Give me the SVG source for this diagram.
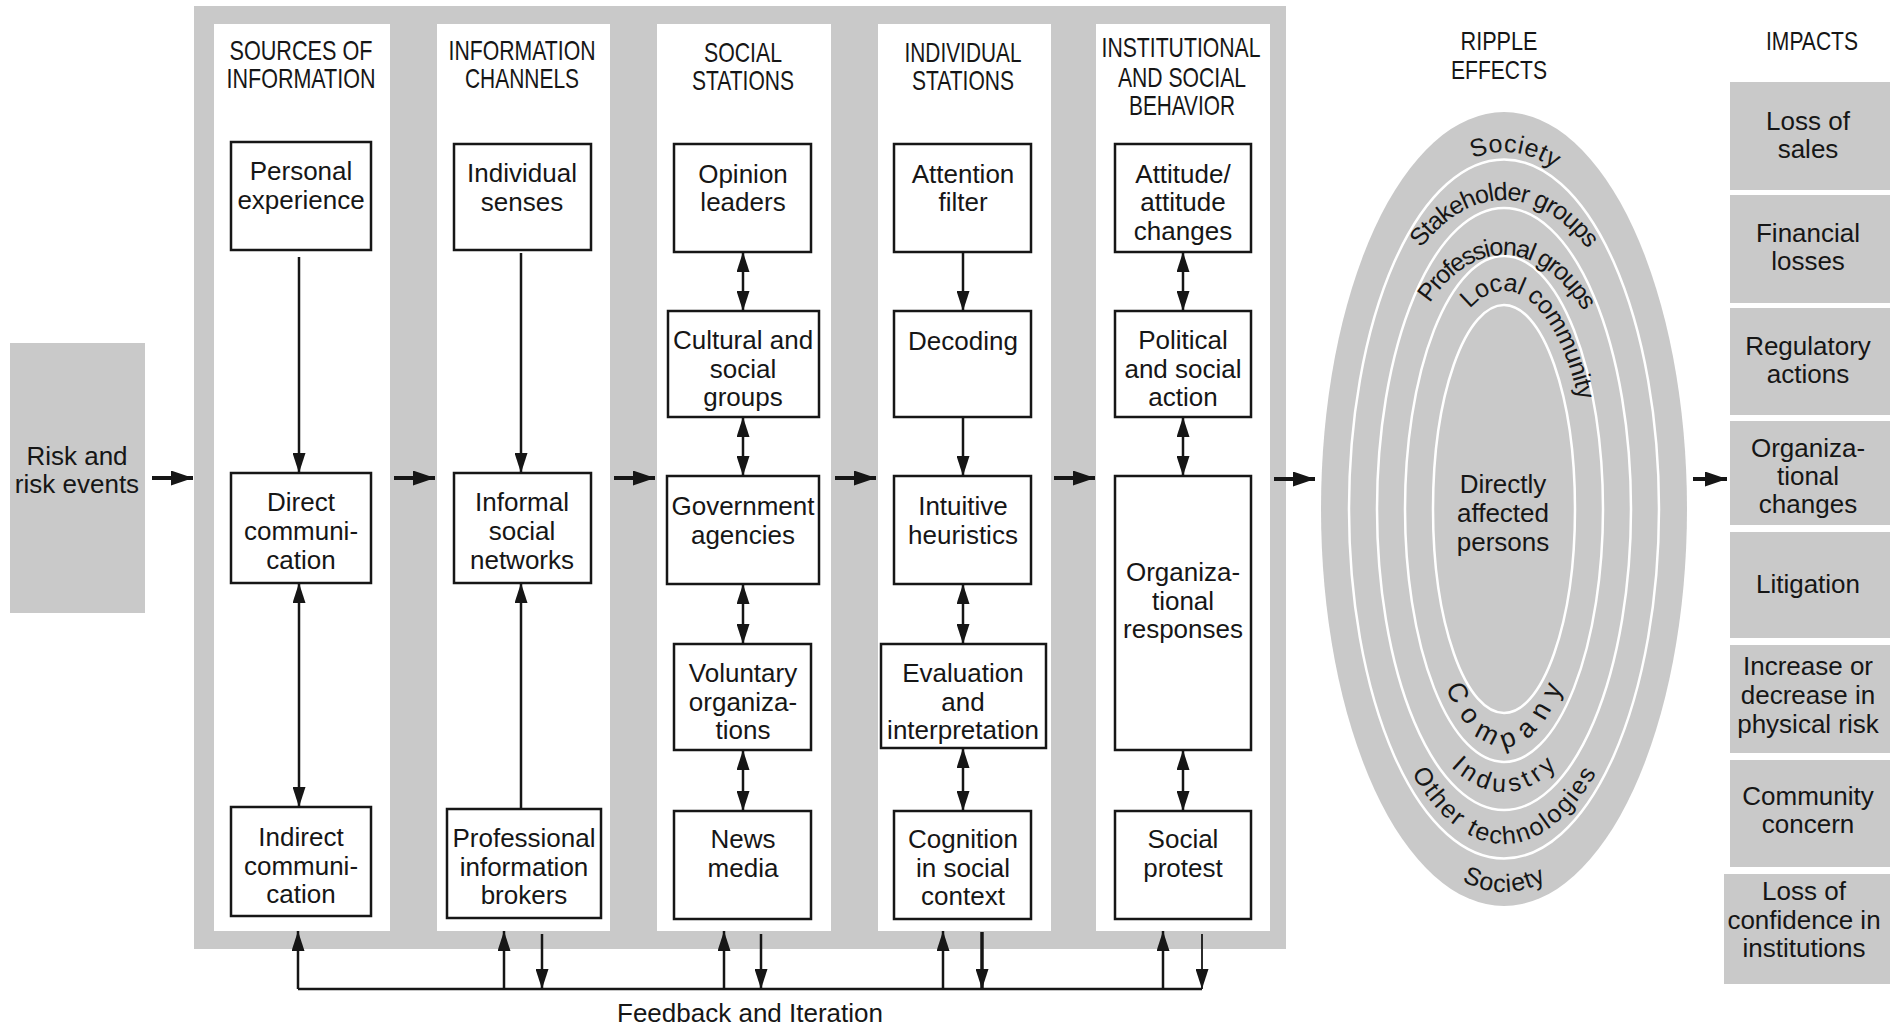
<svg xmlns="http://www.w3.org/2000/svg" xmlns:xlink="http://www.w3.org/1999/xlink" width="1890" height="1026" viewBox="0 0 1890 1026">
<style>
.bg{fill:#c9c9c9}
.col{fill:#ffffff}
.box{fill:#ffffff;stroke:#161616;stroke-width:2.5}
.gbox{fill:#c9c9c9}
text{font-family:"Liberation Sans",Arial,Helvetica,sans-serif;fill:#161616}
.t{font-size:26px;text-anchor:middle}
.h{font-size:28px;text-anchor:middle}
.hs{font-size:25px;text-anchor:middle}
.rl{font-size:25px}
.ln{stroke:#161616;stroke-width:2.5;fill:none}
.fl{stroke:#161616;stroke-width:4;fill:none}
.ring{fill:none;stroke:#ffffff;stroke-width:2.5}
</style>
<defs>
<marker id="ah" markerUnits="userSpaceOnUse" viewBox="0 0 20 13" markerWidth="20" markerHeight="13" refX="20" refY="6.5" orient="auto-start-reverse"><path d="M0,0 L20,6.5 L0,13 z" fill="#161616"/></marker>
<marker id="af" markerUnits="userSpaceOnUse" viewBox="0 0 22 15" markerWidth="22" markerHeight="15" refX="22" refY="7.5" orient="auto"><path d="M0,0 L22,7.5 L0,15 z" fill="#161616"/></marker>
<path id="pSocT" d="M1339,509 A165,357 0 0 1 1669,509"/>
<path id="pStake" d="M1349,509 A155,309 0 0 1 1659,509"/>
<path id="pProf" d="M1377,509 A127,254 0 0 1 1631,509"/>
<path id="pLocal" d="M1418,509 A86,218 0 0 1 1590,509"/>
<path id="pComp" d="M1416,509 A88,238 0 0 0 1592,509"/>
<path id="pInd" d="M1376,509 A128,283 0 0 0 1632,509"/>
<path id="pOther" d="M1354,509 A150,335 0 0 0 1654,509"/>
<path id="pSocB" d="M1327,509 A177,383 0 0 0 1681,509"/>
</defs>

<rect class="bg" x="194" y="6" width="1092" height="943"/>

<g id="risk-events">
<rect class="gbox" x="10" y="343" width="135" height="270"/>
<text class="t" x="77" y="465">Risk and</text>
<text class="t" x="77" y="493">risk events</text>
</g>

<g id="col-sources">
<rect class="col" x="214" y="24" width="176" height="907"/>
<text class="h" x="301" y="60" textLength="143" lengthAdjust="spacingAndGlyphs">SOURCES OF</text>
<text class="h" x="301" y="88" textLength="149" lengthAdjust="spacingAndGlyphs">INFORMATION</text>
</g>
<g id="col-channels">
<rect class="col" x="437" y="24" width="173" height="907"/>
<text class="h" x="522" y="60" textLength="147" lengthAdjust="spacingAndGlyphs">INFORMATION</text>
<text class="h" x="522" y="88" textLength="114" lengthAdjust="spacingAndGlyphs">CHANNELS</text>
</g>
<g id="col-social">
<rect class="col" x="657" y="24" width="174" height="907"/>
<text class="h" x="743" y="62" textLength="78" lengthAdjust="spacingAndGlyphs">SOCIAL</text>
<text class="h" x="743" y="90" textLength="102" lengthAdjust="spacingAndGlyphs">STATIONS</text>
</g>
<g id="col-individual">
<rect class="col" x="878" y="24" width="173" height="907"/>
<text class="h" x="963" y="62" textLength="117" lengthAdjust="spacingAndGlyphs">INDIVIDUAL</text>
<text class="h" x="963" y="90" textLength="102" lengthAdjust="spacingAndGlyphs">STATIONS</text>
</g>
<g id="col-institutional">
<rect class="col" x="1096" y="24" width="174" height="907"/>
<text class="h" x="1181" y="57" textLength="159" lengthAdjust="spacingAndGlyphs">INSTITUTIONAL</text>
<text class="h" x="1182" y="87" textLength="128" lengthAdjust="spacingAndGlyphs">AND SOCIAL</text>
<text class="h" x="1182" y="115" textLength="106" lengthAdjust="spacingAndGlyphs">BEHAVIOR</text>
</g>

<g id="n-personal"><rect class="box" x="231" y="142" width="140" height="108"/>
<text class="t" x="301" y="180">Personal</text><text class="t" x="301" y="208.5">experience</text></g>
<g id="n-direct"><rect class="box" x="231" y="473" width="140" height="110"/>
<text class="t" x="301" y="511">Direct</text><text class="t" x="301" y="540">communi-</text><text class="t" x="301" y="569">cation</text></g>
<g id="n-indirect"><rect class="box" x="231" y="807" width="140" height="109"/>
<text class="t" x="301" y="846">Indirect</text><text class="t" x="301" y="874.5">communi-</text><text class="t" x="301" y="903">cation</text></g>

<g id="n-senses"><rect class="box" x="454" y="144" width="137" height="106"/>
<text class="t" x="522" y="182">Individual</text><text class="t" x="522" y="210.5">senses</text></g>
<g id="n-informal"><rect class="box" x="454" y="473" width="137" height="110"/>
<text class="t" x="522" y="511">Informal</text><text class="t" x="522" y="540">social</text><text class="t" x="522" y="569">networks</text></g>
<g id="n-brokers"><rect class="box" x="447" y="809" width="154" height="109"/>
<text class="t" x="524" y="847">Professional</text><text class="t" x="524" y="875.5">information</text><text class="t" x="524" y="904">brokers</text></g>

<g id="n-opinion"><rect class="box" x="674" y="144" width="137" height="108"/>
<text class="t" x="743" y="182.5">Opinion</text><text class="t" x="743" y="211">leaders</text></g>
<g id="n-cultural"><rect class="box" x="668" y="311" width="151" height="106"/>
<text class="t" x="743" y="349">Cultural and</text><text class="t" x="743" y="377.5">social</text><text class="t" x="743" y="406">groups</text></g>
<g id="n-government"><rect class="box" x="667" y="476" width="152" height="108"/>
<text class="t" x="743" y="515">Government</text><text class="t" x="743" y="543.5">agencies</text></g>
<g id="n-voluntary"><rect class="box" x="674" y="644" width="137" height="106"/>
<text class="t" x="743" y="682">Voluntary</text><text class="t" x="743" y="710.5">organiza-</text><text class="t" x="743" y="739">tions</text></g>
<g id="n-news"><rect class="box" x="674" y="811" width="137" height="108"/>
<text class="t" x="743" y="848">News</text><text class="t" x="743" y="876.5">media</text></g>

<g id="n-attention"><rect class="box" x="894" y="144" width="137" height="108"/>
<text class="t" x="963" y="182.5">Attention</text><text class="t" x="963" y="211">filter</text></g>
<g id="n-decoding"><rect class="box" x="894" y="311" width="137" height="106"/>
<text class="t" x="963" y="350">Decoding</text></g>
<g id="n-intuitive"><rect class="box" x="894" y="476" width="137" height="108"/>
<text class="t" x="963" y="515">Intuitive</text><text class="t" x="963" y="543.5">heuristics</text></g>
<g id="n-evaluation"><rect class="box" x="881" y="644" width="165" height="104"/>
<text class="t" x="963" y="682">Evaluation</text><text class="t" x="963" y="710.5">and</text><text class="t" x="963" y="739">interpretation</text></g>
<g id="n-cognition"><rect class="box" x="894" y="811" width="137" height="108"/>
<text class="t" x="963" y="848">Cognition</text><text class="t" x="963" y="876.5">in social</text><text class="t" x="963" y="905">context</text></g>

<g id="n-attitude"><rect class="box" x="1115" y="144" width="136" height="108"/>
<text class="t" x="1183" y="182.5">Attitude/</text><text class="t" x="1183" y="211">attitude</text><text class="t" x="1183" y="239.5">changes</text></g>
<g id="n-political"><rect class="box" x="1115" y="311" width="136" height="106"/>
<text class="t" x="1183" y="349">Political</text><text class="t" x="1183" y="377.5">and social</text><text class="t" x="1183" y="406">action</text></g>
<g id="n-orgresponses"><rect class="box" x="1115" y="476" width="136" height="274"/>
<text class="t" x="1183" y="581">Organiza-</text><text class="t" x="1183" y="609.5">tional</text><text class="t" x="1183" y="638">responses</text></g>
<g id="n-protest"><rect class="box" x="1115" y="811" width="136" height="108"/>
<text class="t" x="1183" y="848">Social</text><text class="t" x="1183" y="876.5">protest</text></g>

<g id="ripple-effects">
<text class="hs" x="1499" y="50" textLength="77" lengthAdjust="spacingAndGlyphs">RIPPLE</text>
<text class="hs" x="1499" y="79" textLength="96" lengthAdjust="spacingAndGlyphs">EFFECTS</text>
<ellipse class="bg" cx="1504" cy="509" rx="183" ry="397"/>
<ellipse class="ring" cx="1504" cy="509" rx="155" ry="349.5"/>
<ellipse class="ring" cx="1504" cy="509" rx="127" ry="301"/>
<ellipse class="ring" cx="1504" cy="509" rx="99" ry="253"/>
<ellipse class="ring" cx="1504" cy="509" rx="71" ry="204"/>
<text class="rl" letter-spacing="0.6"><textPath xlink:href="#pSocT" href="#pSocT" startOffset="50%" text-anchor="middle"><tspan dx="11">Society</tspan></textPath></text>
<text class="rl" letter-spacing="-1"><textPath xlink:href="#pStake" href="#pStake" startOffset="50%" text-anchor="middle">Stakeholder groups</textPath></text>
<text class="rl" letter-spacing="-1.5"><textPath xlink:href="#pProf" href="#pProf" startOffset="50%" text-anchor="middle"><tspan dx="4">Professional groups</tspan></textPath></text>
<text class="rl" letter-spacing="-0.5"><textPath xlink:href="#pLocal" href="#pLocal" startOffset="50%" text-anchor="start"><tspan dx="-40">Local community</tspan></textPath></text>
<text class="t" x="1503" y="493">Directly</text>
<text class="t" x="1503" y="522">affected</text>
<text class="t" x="1503" y="551">persons</text>
<text class="rl" letter-spacing="10" style="font-size:27px"><textPath xlink:href="#pComp" href="#pComp" startOffset="50%" text-anchor="middle"><tspan dx="5">Company</tspan></textPath></text>
<text class="rl" letter-spacing="4.5"><textPath xlink:href="#pInd" href="#pInd" startOffset="50%" text-anchor="middle"><tspan dx="2">Industry</tspan></textPath></text>
<text class="rl" letter-spacing="2"><textPath xlink:href="#pOther" href="#pOther" startOffset="50%" text-anchor="middle"><tspan dx="1">Other technologies</tspan></textPath></text>
<text class="rl" letter-spacing="1"><textPath xlink:href="#pSocB" href="#pSocB" startOffset="50%" text-anchor="middle"><tspan dx="0.5">Society</tspan></textPath></text>
</g>

<g id="impacts">
<text class="hs" x="1812" y="50" textLength="92" lengthAdjust="spacingAndGlyphs">IMPACTS</text>
<g id="i-sales"><rect class="gbox" x="1730" y="82" width="160" height="108"/>
<text class="t" x="1808" y="130">Loss of</text><text class="t" x="1808" y="158">sales</text></g>
<g id="i-financial"><rect class="gbox" x="1730" y="195" width="160" height="108"/>
<text class="t" x="1808" y="242">Financial</text><text class="t" x="1808" y="270">losses</text></g>
<g id="i-regulatory"><rect class="gbox" x="1730" y="308" width="160" height="107"/>
<text class="t" x="1808" y="355">Regulatory</text><text class="t" x="1808" y="383">actions</text></g>
<g id="i-organizational"><rect class="gbox" x="1730" y="421" width="160" height="104"/>
<text class="t" x="1808" y="457">Organiza-</text><text class="t" x="1808" y="485">tional</text><text class="t" x="1808" y="513">changes</text></g>
<g id="i-litigation"><rect class="gbox" x="1730" y="532" width="160" height="106"/>
<text class="t" x="1808" y="593">Litigation</text></g>
<g id="i-risk"><rect class="gbox" x="1730" y="645" width="160" height="108"/>
<text class="t" x="1808" y="675">Increase or</text><text class="t" x="1808" y="704">decrease in</text><text class="t" x="1808" y="733">physical risk</text></g>
<g id="i-community"><rect class="gbox" x="1730" y="760" width="160" height="107"/>
<text class="t" x="1808" y="805">Community</text><text class="t" x="1808" y="833">concern</text></g>
<g id="i-confidence"><rect class="gbox" x="1724" y="874" width="166" height="110"/>
<text class="t" x="1804" y="900">Loss of</text><text class="t" x="1804" y="928.5">confidence in</text><text class="t" x="1804" y="957">institutions</text></g>
</g>

<g id="connectors">
<line class="fl" x1="152" y1="478" x2="193" y2="478" marker-end="url(#af)"/>
<line class="fl" x1="394" y1="478" x2="435" y2="478" marker-end="url(#af)"/>
<line class="fl" x1="614" y1="478" x2="655" y2="478" marker-end="url(#af)"/>
<line class="fl" x1="835" y1="478" x2="876" y2="478" marker-end="url(#af)"/>
<line class="fl" x1="1054" y1="478" x2="1095" y2="478" marker-end="url(#af)"/>
<line class="fl" x1="1274" y1="479" x2="1315" y2="479" marker-end="url(#af)"/>
<line class="fl" x1="1693" y1="479" x2="1727" y2="479" marker-end="url(#af)"/>

<line class="ln" x1="299" y1="257" x2="299" y2="473" marker-end="url(#ah)"/>
<line class="ln" x1="299" y1="583" x2="299" y2="807" marker-start="url(#ah)" marker-end="url(#ah)"/>
<line class="ln" x1="521" y1="253" x2="521" y2="473" marker-end="url(#ah)"/>
<line class="ln" x1="521" y1="809" x2="521" y2="583" marker-end="url(#ah)"/>

<line class="ln" x1="743" y1="252" x2="743" y2="311" marker-start="url(#ah)" marker-end="url(#ah)"/>
<line class="ln" x1="743" y1="417" x2="743" y2="476" marker-start="url(#ah)" marker-end="url(#ah)"/>
<line class="ln" x1="743" y1="584" x2="743" y2="644" marker-start="url(#ah)" marker-end="url(#ah)"/>
<line class="ln" x1="743" y1="750" x2="743" y2="811" marker-start="url(#ah)" marker-end="url(#ah)"/>

<line class="ln" x1="963" y1="252" x2="963" y2="311" marker-end="url(#ah)"/>
<line class="ln" x1="963" y1="417" x2="963" y2="476" marker-end="url(#ah)"/>
<line class="ln" x1="963" y1="584" x2="963" y2="644" marker-start="url(#ah)" marker-end="url(#ah)"/>
<line class="ln" x1="963" y1="748" x2="963" y2="811" marker-start="url(#ah)" marker-end="url(#ah)"/>

<line class="ln" x1="1183" y1="252" x2="1183" y2="311" marker-start="url(#ah)" marker-end="url(#ah)"/>
<line class="ln" x1="1183" y1="417" x2="1183" y2="476" marker-start="url(#ah)" marker-end="url(#ah)"/>
<line class="ln" x1="1183" y1="750" x2="1183" y2="811" marker-start="url(#ah)" marker-end="url(#ah)"/>

<line class="ln" x1="298" y1="989" x2="1202" y2="989"/>
<line class="ln" x1="298" y1="989" x2="298" y2="931" marker-end="url(#ah)"/>
<line class="ln" x1="504" y1="989" x2="504" y2="931" marker-end="url(#ah)"/>
<line class="ln" x1="542" y1="934" x2="542" y2="989" marker-end="url(#ah)"/>
<line class="ln" x1="724" y1="989" x2="724" y2="931" marker-end="url(#ah)"/>
<line class="ln" x1="761" y1="934" x2="761" y2="989" marker-end="url(#ah)"/>
<line class="ln" x1="943" y1="989" x2="943" y2="931" marker-end="url(#ah)"/>
<line class="ln" x1="982" y1="932" x2="982" y2="989" marker-end="url(#ah)" style="stroke-width:3.5"/>
<line class="ln" x1="1163" y1="989" x2="1163" y2="931" marker-end="url(#ah)"/>
<line class="ln" x1="1202" y1="934" x2="1202" y2="989" marker-end="url(#ah)" style="stroke-width:1.8"/>
<text class="t" x="750" y="1022">Feedback and Iteration</text>
</g>
</svg>
